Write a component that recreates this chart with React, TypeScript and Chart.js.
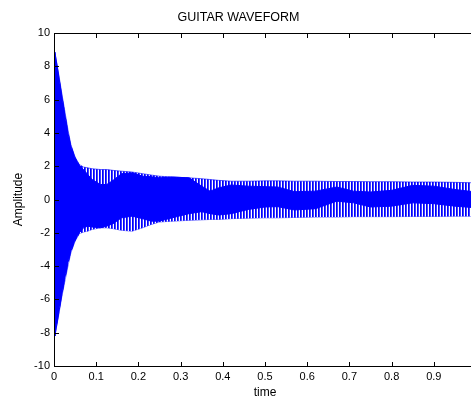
import React, { useEffect, useRef } from "react";
import { Chart, registerables } from "chart.js";
Chart.register(...registerables);

const chartTitle = "GUITAR WAVEFORM";
const xAxisTitle = "time";
const yAxisTitle = "Amplitude";

// sample times (s) at which the waveform envelope was read
const time = [0, 0.002, 0.01, 0.018, 0.025, 0.033, 0.04, 0.05, 0.06, 0.07, 0.08, 0.09, 0.11, 0.125, 0.14, 0.16, 0.185, 0.21, 0.23, 0.25, 0.28, 0.32, 0.35, 0.37, 0.39, 0.42, 0.46, 0.5, 0.53, 0.57, 0.62, 0.67, 0.71, 0.75, 0.8, 0.85, 0.9, 0.95, 1.0];

// outer envelope: peaks of the individual oscillations
const outerUpper = [8.6, 8.85, 7.7, 6.45, 5.4, 4.2, 3.3, 2.55, 2.1, 1.95, 1.9, 1.85, 1.8, 1.8, 1.75, 1.7, 1.65, 1.55, 1.47, 1.4, 1.35, 1.3, 1.25, 1.2, 1.15, 1.1, 1.1, 1.12, 1.12, 1.1, 1.1, 1.08, 1.08, 1.07, 1.07, 1.05, 1.05, 1.03, 1.0];
const outerLower = [-7.9, -8.2, -7.1, -5.9, -5.0, -4.0, -3.2, -2.5, -2.05, -1.95, -1.9, -1.8, -1.7, -1.7, -1.75, -1.85, -1.9, -1.7, -1.5, -1.35, -1.3, -1.25, -1.22, -1.2, -1.2, -1.15, -1.12, -1.1, -1.1, -1.08, -1.05, -1.05, -1.03, -1.03, -1.03, -1.02, -1.02, -1.0, -1.0];

// inner envelope: the densely filled core of the waveform
const innerUpper = [8.6, 8.85, 7.6, 6.3, 5.2, 4.0, 3.2, 2.5, 2.05, 1.8, 1.5, 1.2, 0.9, 0.9, 1.15, 1.55, 1.6, 1.4, 1.37, 1.3, 1.35, 1.3, 0.8, 0.5, 0.7, 0.87, 0.8, 0.77, 0.75, 0.47, 0.5, 0.75, 0.5, 0.45, 0.55, 0.85, 0.8, 0.6, 0.45];
const innerLower = [-7.9, -8.2, -7.0, -5.8, -4.8, -3.8, -3.1, -2.45, -2.0, -1.7, -1.6, -1.65, -1.7, -1.6, -1.45, -1.1, -1.0, -1.15, -1.3, -1.3, -1.1, -0.85, -0.73, -0.85, -0.93, -0.85, -0.6, -0.45, -0.43, -0.63, -0.55, -0.1, -0.2, -0.45, -0.4, -0.2, -0.25, -0.4, -0.5];

const xMin = 0;
const xMax = 1;
const xStep = 0.1;
const yMin = -10;
const yMax = 10;
const yStep = 2;

const FONT = 'Arial, "Liberation Sans", Helvetica, sans-serif';

const innerTicks = {
  id: "innerTicks",
  afterDraw(chart: any) {
    const { ctx, chartArea, scales } = chart;
    const { left, right, top, bottom } = chartArea;
    const x = scales.x;
    const y = scales.y;
    ctx.save();
    ctx.strokeStyle = "#000";
    ctx.lineWidth = 1;
    ctx.beginPath();
    // frame
    ctx.moveTo(left, top + 0.5);
    ctx.lineTo(right, top + 0.5);
    ctx.moveTo(left, bottom + 0.5);
    ctx.lineTo(right, bottom + 0.5);
    ctx.moveTo(left + 0.5, top);
    ctx.lineTo(left + 0.5, bottom + 1);
    ctx.moveTo(right - 0.5, top);
    ctx.lineTo(right - 0.5, bottom + 1);
    const len = 4;
    x.ticks.forEach((t: any) => {
      const px = Math.round(x.getPixelForValue(t.value)) + 0.5;
      ctx.moveTo(px, bottom);
      ctx.lineTo(px, bottom - len);
      ctx.moveTo(px, top + 1);
      ctx.lineTo(px, top + 1 + len);
    });
    y.ticks.forEach((t: any) => {
      const py = Math.round(y.getPixelForValue(t.value)) + 0.5;
      ctx.moveTo(left + 1, py);
      ctx.lineTo(left + 1 + len, py);
      ctx.moveTo(right - 1, py);
      ctx.lineTo(right - 1 - len, py);
    });
    ctx.stroke();
    ctx.restore();
  },
};

export default function App() {
  const ref = useRef<HTMLCanvasElement>(null);

  useEffect(() => {
    document.body.style.margin = "0";
    const canvas = ref.current!;
    const pc = document.createElement("canvas");
    pc.width = 3;
    pc.height = 1;
    const pctx = pc.getContext("2d")!;
    pctx.fillStyle = "#ffffff";
    pctx.fillRect(0, 0, 3, 1);
    pctx.fillStyle = "#0000ff";
    pctx.fillRect(0, 0, 1, 1);
    pctx.fillStyle = "#4040ff";
    pctx.fillRect(1, 0, 1, 1);
    const pattern = canvas.getContext("2d")!.createPattern(pc, "repeat");

    const pts = (arr: number[]) => time.map((t, i) => ({ x: t, y: arr[i] }));
    const common = { pointRadius: 0, tension: 0, borderWidth: 1 };

    const chart = new Chart(canvas, {
      type: "line",
      data: {
        datasets: [
          { ...common, data: pts(innerUpper), borderColor: "#0000ff", backgroundColor: "#0000ff", fill: "+1" },
          { ...common, data: pts(innerLower), borderColor: "#0000ff", fill: false },
          { ...common, data: pts(outerUpper), borderColor: "rgba(0,0,255,0.6)", backgroundColor: pattern as any, fill: "+1" },
          { ...common, data: pts(outerLower), borderColor: "rgba(0,0,255,0.6)", fill: false },
        ],
      },
      options: {
        responsive: false,
        animation: false,
        devicePixelRatio: 1,
        layout: { padding: { left: 0, right: 3, top: 0, bottom: 0 } },
        plugins: {
          legend: { display: false },
          tooltip: { enabled: false },
          title: {
            display: true,
            text: chartTitle,
            color: "#000",
            font: { family: FONT, size: 12.5, weight: "normal" },
            padding: { top: 10, bottom: 8 },
          },
        },
        scales: {
          x: {
            type: "linear",
            min: xMin,
            max: xMax,
            grid: { display: false, drawTicks: false },
            border: { display: false },
            ticks: {
              stepSize: xStep,
              padding: 4,
              color: "#000",
              maxRotation: 0,
              autoSkip: false,
              font: { family: FONT, size: 11 },
              callback: (v: any) => (v >= 0.95 ? "" : String(Number(v.toFixed(1)))),
            },
            title: {
              display: true,
              text: xAxisTitle,
              color: "#000",
              font: { family: FONT, size: 12 },
              padding: { top: 0, bottom: -1 },
            },
            afterFit: (s: any) => {
              s.height = 33;
            },
          },
          y: {
            type: "linear",
            min: yMin,
            max: yMax,
            grid: { display: false, drawTicks: false },
            border: { display: false },
            ticks: {
              stepSize: yStep,
              padding: 4,
              color: "#000",
              autoSkip: false,
              font: { family: FONT, size: 11 },
            },
            title: {
              display: true,
              text: yAxisTitle,
              color: "#000",
              font: { family: FONT, size: 12 },
              padding: { top: 11, bottom: 0 },
            },
            afterFit: (s: any) => {
              s.width = 54;
            },
          },
        },
      },
      plugins: [innerTicks],
    });
    return () => chart.destroy();
  }, []);

  return (
    <div style={{ width: 471, height: 399, overflow: "hidden", background: "#fff" }}>
      <canvas ref={ref} width={480} height={399} style={{ display: "block" }} />
    </div>
  );
}
